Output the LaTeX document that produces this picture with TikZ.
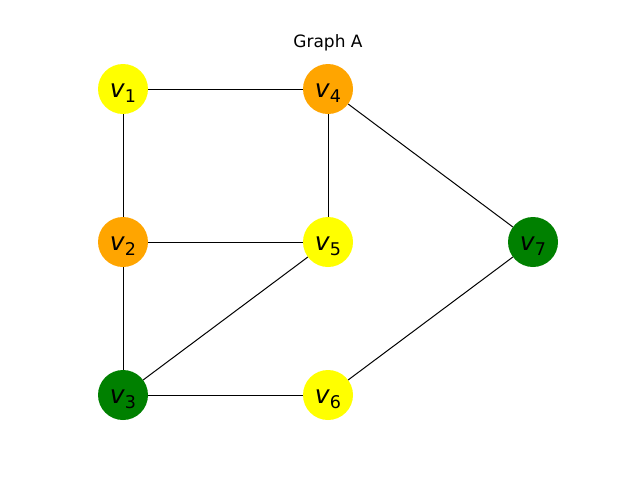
\documentclass[tikz,border=0pt]{standalone}
\usepackage{fontspec}
\setmainfont{DejaVu Sans}
\begin{document}
\begin{tikzpicture}[x=1pt,y=-1pt,
  vtx/.style={circle,minimum size=50pt,inner sep=0pt,font=\fontsize{25}{25}\selectfont},
  yel/.style={vtx,fill={rgb,255:red,255;green,255;blue,0}},
  org/.style={vtx,fill={rgb,255:red,255;green,165;blue,0}},
  grn/.style={vtx,fill={rgb,255:red,0;green,128;blue,0}},
  edge/.style={draw=black,line width=1pt}]
\useasboundingbox[fill=white] (0,0) rectangle (640,480);
% vertex label: italic v with a lowered index, baseline placed below the centre
\newcommand{\vlab}[1]{\raisebox{-8pt}[0pt][0pt]{\textit{v}\raisebox{-0.22em}{\fontsize{17.5}{17.5}\selectfont #1}}}
\node[font=\fontsize{17}{17}\selectfont] (title) at (328,43) {Graph A};
\node[yel] (v1) at (123,89) {\vlab{1}};
\node[org] (v4) at (328,89) {\vlab{4}};
\node[org] (v2) at (123,242) {\vlab{2}};
\node[yel] (v5) at (328,242) {\vlab{5}};
\node[grn] (v7) at (533,242) {\vlab{7}};
\node[grn] (v3) at (123,395) {\vlab{3}};
\node[yel] (v6) at (328,395) {\vlab{6}};
\draw[edge] (v1) -- (v4);
\draw[edge] (v1) -- (v2);
\draw[edge] (v4) -- (v5);
\draw[edge] (v4) -- (v7);
\draw[edge] (v2) -- (v5);
\draw[edge] (v2) -- (v3);
\draw[edge] (v5) -- (v3);
\draw[edge] (v3) -- (v6);
\draw[edge] (v6) -- (v7);
\end{tikzpicture}
\end{document}
